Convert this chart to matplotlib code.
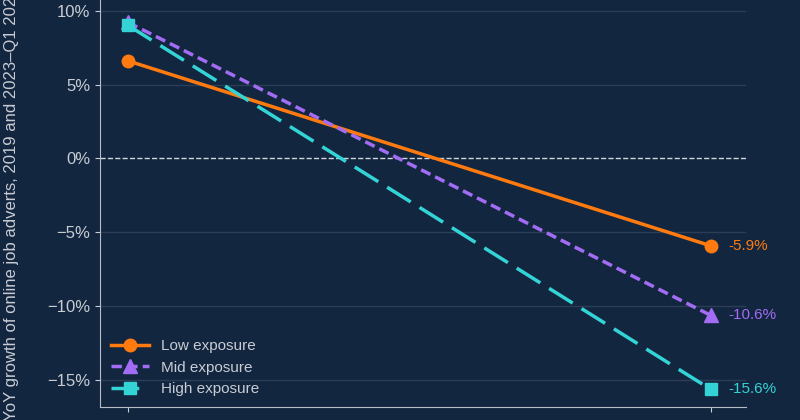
import matplotlib
matplotlib.use('Agg')
import matplotlib.pyplot as plt

plt.rcParams['font.family'] = ['Liberation Sans', 'DejaVu Sans']

periods = ['2019', '2023–Q1 2024']
low = [6.6, -5.9]
mid = [9.2, -10.6]
high = [9.0, -15.6]
yticks = [-15, -10, -5, 0, 5, 10]

bg = '#13263f'
txt = '#c8ccd4'

fig = plt.figure(figsize=(8, 4.2), dpi=100, facecolor=bg)
ax = fig.add_axes([0.125, 0.031, 0.807, 0.972], facecolor=bg)

x = [0, 1]
ax.plot(x, low, color='#ff7a0f', lw=2.5, marker='o', ms=9, label='Low exposure')
ax.plot(x, mid, color='#a36cf5', lw=2.5, ls=(0, (3, 1.5)), marker='^', ms=10, label='Mid exposure')
ax.plot(x, high, color='#34d3d6', lw=2.5, ls=(0, (8, 3)), marker='s', ms=9, label='High exposure')

for vals, c in [(low, '#ff7a0f'), (mid, '#a36cf5'), (high, '#34d3d6')]:
    ax.text(1.03, vals[1], f'{vals[1]:.1f}%', color=c, va='center', fontsize=11)

ax.axhline(0, color='#d0d4dc', ls='--', lw=1, zorder=1)
for t in yticks:
    if t != 0:
        ax.axhline(t, color='#2c3e57', lw=1, zorder=0)

ax.set_xlim(-0.048, 1.06)
ax.set_ylim(-16.8, 10.8)
ax.set_xticks(x)
ax.set_xticklabels(periods)
ax.set_yticks(yticks)
ax.set_yticklabels([f'{t}%'.replace('-', '\u2212') for t in yticks])
ax.tick_params(colors=txt, labelsize=12)
ax.tick_params(axis='x', pad=8)
for s in ['top', 'right']:
    ax.spines[s].set_visible(False)
for s in ['left', 'bottom']:
    ax.spines[s].set_color('#b8bcc4')
ax.set_ylabel('Mean YoY growth of online job adverts, 2019 and 2023–Q1 2024', color=txt,
              fontsize=12, labelpad=14)
ax.yaxis.set_label_coords(-0.125, 0.44)

leg = ax.legend(loc='lower left', frameon=False, fontsize=11, labelcolor=txt,
                handlelength=2.5, borderaxespad=0.3)

fig.savefig('out.png', facecolor=bg)
